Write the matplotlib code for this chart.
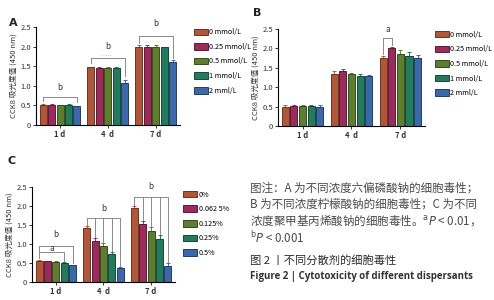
import numpy as np
import matplotlib.pyplot as plt
import matplotlib.colors as mcolors

plt.rcParams['font.family'] = ['Noto Sans CJK SC', 'DejaVu Sans']

days = ["1 d", "4  d", "7 d"]
colors = ["#b0573a", "#9b2b5a", "#5e7d2e", "#237a5c", "#3b68a8"]

labels_ab = ["0 mmol/L", "0.25 mmol/L", "0.5 mmol/L", "1 mmol/L", "2 mml/L"]
labels_c = ["0%", "0.062 5%", "0.125%", "0.25%", "0.5%"]

# rows = concentration, cols = day
vals_a = [[0.51, 1.47, 2.00],
          [0.51, 1.46, 1.99],
          [0.50, 1.45, 1.99],
          [0.51, 1.45, 1.98],
          [0.48, 1.07, 1.62]]
err_a = [[0.02, 0.02, 0.04],
         [0.02, 0.02, 0.04],
         [0.02, 0.02, 0.04],
         [0.02, 0.02, 0.02],
         [0.01, 0.08, 0.03]]

vals_b = [[0.50, 1.35, 1.76],
          [0.52, 1.41, 2.01],
          [0.52, 1.34, 1.86],
          [0.52, 1.30, 1.80],
          [0.50, 1.28, 1.76]]
err_b = [[0.03, 0.06, 0.05],
         [0.03, 0.05, 0.03],
         [0.03, 0.04, 0.09],
         [0.03, 0.03, 0.10],
         [0.03, 0.04, 0.07]]

vals_c = [[0.56, 1.43, 1.94],
          [0.54, 1.08, 1.53],
          [0.53, 0.95, 1.34],
          [0.49, 0.73, 1.13],
          [0.44, 0.36, 0.41]]
err_c = [[0.02, 0.05, 0.05],
         [0.02, 0.08, 0.07],
         [0.02, 0.07, 0.10],
         [0.03, 0.06, 0.11],
         [0.01, 0.04, 0.09]]

fig = plt.figure(figsize=(4.94, 3.0), dpi=100)

step = 0.177
width = 0.146
x = np.arange(len(days))


def darker(c, f=0.6):
    r, g, b = mcolors.to_rgb(c)
    return (r * f, g * f, b * f)


def panel(rect, vals, errs, labels, leg_xy, letter, letter_xy):
    ax = fig.add_axes(rect)
    for i in range(5):
        pos = x + (i - 2) * step
        ax.bar(pos, vals[i], width, color=colors[i], edgecolor=darker(colors[i]),
               linewidth=0.7, label=labels[i], zorder=2)
        ax.errorbar(pos, vals[i], yerr=[np.zeros(3), errs[i]], fmt='none',
                    ecolor=colors[i], elinewidth=0.7, capsize=1.6, capthick=0.7, zorder=1)
    ax.set_xlim(-0.5, 2.5)
    ax.set_ylim(0, 2.5)
    ax.set_yticks([0, 0.5, 1.0, 1.5, 2.0, 2.5])
    ax.set_yticklabels(["0", "0.5", "1.0", "1.5", "2.0", "2.5"])
    ax.set_xticks(x)
    ax.set_xticklabels(days, fontweight='bold')
    ax.tick_params(labelsize=5.5, length=2, width=0.7, pad=1.5, colors='#333333')
    for s in ['top', 'right']:
        ax.spines[s].set_visible(False)
    for s in ['left', 'bottom']:
        ax.spines[s].set_linewidth(0.8)
    ax.set_ylabel("CCK8 吸光度值 (450 nm)", fontsize=5.5, labelpad=2, color='#333333')
    ax.legend(loc='upper left', bbox_to_anchor=leg_xy, bbox_transform=fig.transFigure,
              frameon=False, fontsize=5.2, handlelength=1.9, handleheight=1.0,
              handletextpad=0.25, labelspacing=0.92, borderpad=0)
    fig.text(letter_xy[0], letter_xy[1], letter, fontsize=8, fontweight='bold',
             family='DejaVu Sans', color='#222222')
    return ax


def bracket(ax, g, i0, others, vals, errs, yline, ylab, lab, gap=0.06):
    gc = '#8a8a8a'
    x0 = g + (i0 - 2) * step
    xs = [g + (j - 2) * step for j in others]
    ax.plot([x0, max(xs)], [yline, yline], color=gc, lw=0.7, clip_on=False)
    for j in [i0] + list(others):
        xx = g + (j - 2) * step
        top = vals[j][g] + errs[j][g] + gap
        ax.plot([xx, xx], [yline, top], color=gc, lw=0.7, clip_on=False)
    ax.text((x0 + max(xs)) / 2, ylab, lab, ha='center', va='center', fontsize=6,
            color='#333333', clip_on=False)


ax_a = panel([0.073, 0.583, 0.291, 0.327], vals_a, err_a, labels_ab,
             (0.385, 0.918), "A", (0.018, 0.915))
bracket(ax_a, 0, 0, [4], vals_a, err_a, 0.72, 0.97, "b", 0.09)
bracket(ax_a, 1, 0, [4], vals_a, err_a, 1.72, 2.0, "b", 0.1)
ax_a.plot([1 - 0.15, 1 + 0.06], [1.78, 1.78], color='#bbbbbb', lw=0.6, ls=':')
bracket(ax_a, 2, 0, [4], vals_a, err_a, 2.28, 2.58, "b", 0.05)

ax_b = panel([0.563, 0.58, 0.297, 0.323], vals_b, err_b, labels_ab,
             (0.873, 0.91), "B", (0.512, 0.945))
bracket(ax_b, 2, 0, [1], vals_b, err_b, 2.26, 2.49, "a", 0.05)

ax_c = panel([0.065, 0.06, 0.289, 0.317], vals_c, err_c, labels_c,
             (0.364, 0.377), "C", (0.016, 0.455))
bracket(ax_c, 0, 0, [3], vals_c, err_c, 0.78, 0.88, "a", 0.04)
bracket(ax_c, 0, 0, [4], vals_c, err_c, 0.95, 1.24, "b", 0.05)
bracket(ax_c, 1, 0, [1, 2, 3, 4], vals_c, err_c, 1.68, 1.94, "b", 0.03)
bracket(ax_c, 2, 0, [1, 2, 3, 4], vals_c, err_c, 2.24, 2.51, "b", 0.03)

# caption
cap = ["图注：A 为不同浓度六偏磷酸钠的细胞毒性；",
       "B 为不同浓度柠檬酸钠的细胞毒性；C 为不同",
       "浓度聚甲基丙烯酸钠的细胞毒性。$^{\\rm a}$$\\it{P}$ < 0.01，",
       "$^{\\rm b}$$\\it{P}$ < 0.001"]
ys = [188, 204, 220, 238]
for t, yy in zip(cap, ys):
    fig.text(250 / 494, 1 - yy / 300, t, fontsize=8.3, color='#4a4a4a', va='center')
fig.text(250 / 494, 1 - 260 / 300, "图 2 丨不同分散剂的细胞毒性", fontsize=8.1,
         color='#2a2a2a', va='center')
fig.text(250 / 494, 1 - 277 / 300, "Figure 2 | Cytotoxicity of different dispersants",
         fontsize=7.0, fontweight='bold', color='#333333', va='center',
         family='Open Sans')

fig.savefig("out.png", dpi=100)
